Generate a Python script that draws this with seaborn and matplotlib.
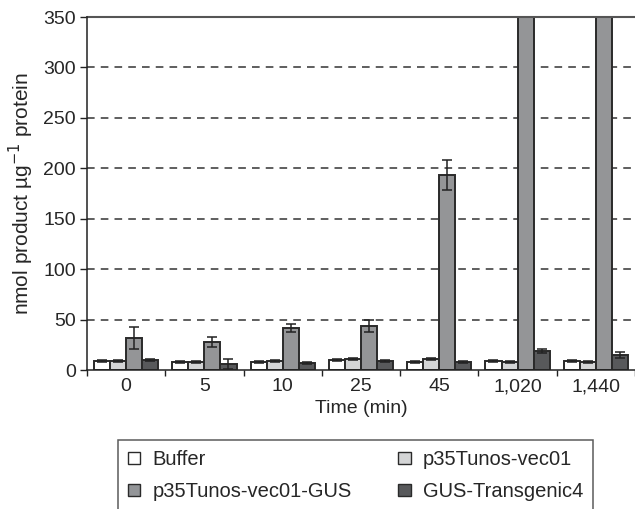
import matplotlib
matplotlib.use("Agg")
import matplotlib.pyplot as plt
import seaborn as sns
import pandas as pd
import numpy as np
from matplotlib.patches import Patch

times = ["0", "5", "10", "25", "45", "1,020", "1,440"]
series = ["Buffer", "p35Tunos-vec01", "p35Tunos-vec01-GUS", "GUS-Transgenic4"]
buffer_vals = [9, 8, 8, 10, 8, 9, 9]
buffer_err = [1, 1, 1, 1, 1, 1, 1]
vec01_vals = [9, 8, 9, 11, 11, 8, 8]
vec01_err = [1, 1, 1, 1, 1, 1, 1]
gus_vals = [32, 28, 42, 44, 193, 420, 420]
gus_err = [11, 5, 4, 6, 15, 0, 0]
trans_vals = [10, 6, 7, 9, 8, 19, 15]
trans_err = [1, 5, 1, 1, 1, 2, 3]
colors = ["#ffffff", "#d4d5d6", "#939598", "#58595b"]

vals = [buffer_vals, vec01_vals, gus_vals, trans_vals]
errs = [buffer_err, vec01_err, gus_err, trans_err]
rows = []
for s, v, e in zip(series, vals, errs):
    for t, vv, ee in zip(times, v, e):
        rows.append({"Time": t, "Series": s, "Value": vv, "Err": ee})
df = pd.DataFrame(rows)

sns.set_style("white")
plt.rcParams["font.family"] = ["Liberation Sans", "DejaVu Sans"]

fig = plt.figure(figsize=(6.35, 5.09), dpi=100)
ax = fig.add_axes([0.137, 0.273, 0.863, 0.6936])

sns.barplot(data=df, x="Time", y="Value", hue="Series", order=times,
            hue_order=series, palette=colors, errorbar=None, width=0.82,
            edgecolor="#2a2a2a", linewidth=1.4, ax=ax, legend=False, zorder=3)

# error bars
for i, s in enumerate(series):
    cont = ax.containers[i]
    xs = [p.get_x() + p.get_width() / 2 for p in cont.patches]
    hs = [p.get_height() for p in cont.patches]
    e = np.array(errs[i])
    ax.errorbar(xs, hs, yerr=e, fmt="none", ecolor="#222222", elinewidth=1.1,
                capsize=3.5, capthick=1.1, zorder=4)

ax.set_ylim(0, 350)
ax.set_xlim(-0.5, 6.5)
ax.set_yticks(range(0, 351, 50))
for y in range(50, 350, 50):
    ax.axhline(y, color="#333333", linestyle=(0, (5, 4)), linewidth=1.1, zorder=1)
ax.axhline(350, color="#555555", linewidth=1.5, zorder=5, clip_on=False)

for sp in ["top", "right"]:
    ax.spines[sp].set_visible(False)
for sp in ["left", "bottom"]:
    ax.spines[sp].set_color("#222222")
    ax.spines[sp].set_linewidth(1.1)
    ax.spines[sp].set_zorder(6)

ax.set_xticks(np.arange(7))
ax.set_xticklabels(times, fontsize=14)
ax.tick_params(axis="x", length=0, pad=6)
ax.set_xticks(np.arange(-0.5, 7, 1), minor=True)
ax.tick_params(axis="x", which="minor", length=4, direction="out", color="#222222", width=1)
ax.tick_params(axis="y", length=5, direction="out", color="#222222", width=1, labelsize=14, pad=3)
ax.yaxis.set_ticks_position("left")
ax.xaxis.set_ticks_position("bottom")

ax.set_xlabel("Time (min)", fontsize=14, labelpad=3)
ax.set_ylabel("nmol product µg$^{-1}$ protein", fontsize=15, labelpad=5)

# legend filled row-wise: Buffer, p35Tunos-vec01 / p35Tunos-vec01-GUS, GUS-Transgenic4
order = [0, 2, 1, 3]
handles = [Patch(facecolor=colors[k], edgecolor="#2a2a2a", linewidth=1) for k in order]
labels = [series[k] for k in order]
leg = fig.legend(handles, labels, loc="upper left",
                 bbox_to_anchor=(0.186, 0.1356 - 0.15, 0.748, 0.15), mode="expand",
                 ncol=2, frameon=True, fancybox=False, fontsize=14.5,
                 handlelength=0.6, handleheight=0.6, handletextpad=0.6,
                 borderpad=0.5, labelspacing=0.65, columnspacing=0.6, borderaxespad=0)
leg.get_frame().set_edgecolor("#333333")
leg.get_frame().set_linewidth(1.1)

fig.savefig("out.png", dpi=100)
